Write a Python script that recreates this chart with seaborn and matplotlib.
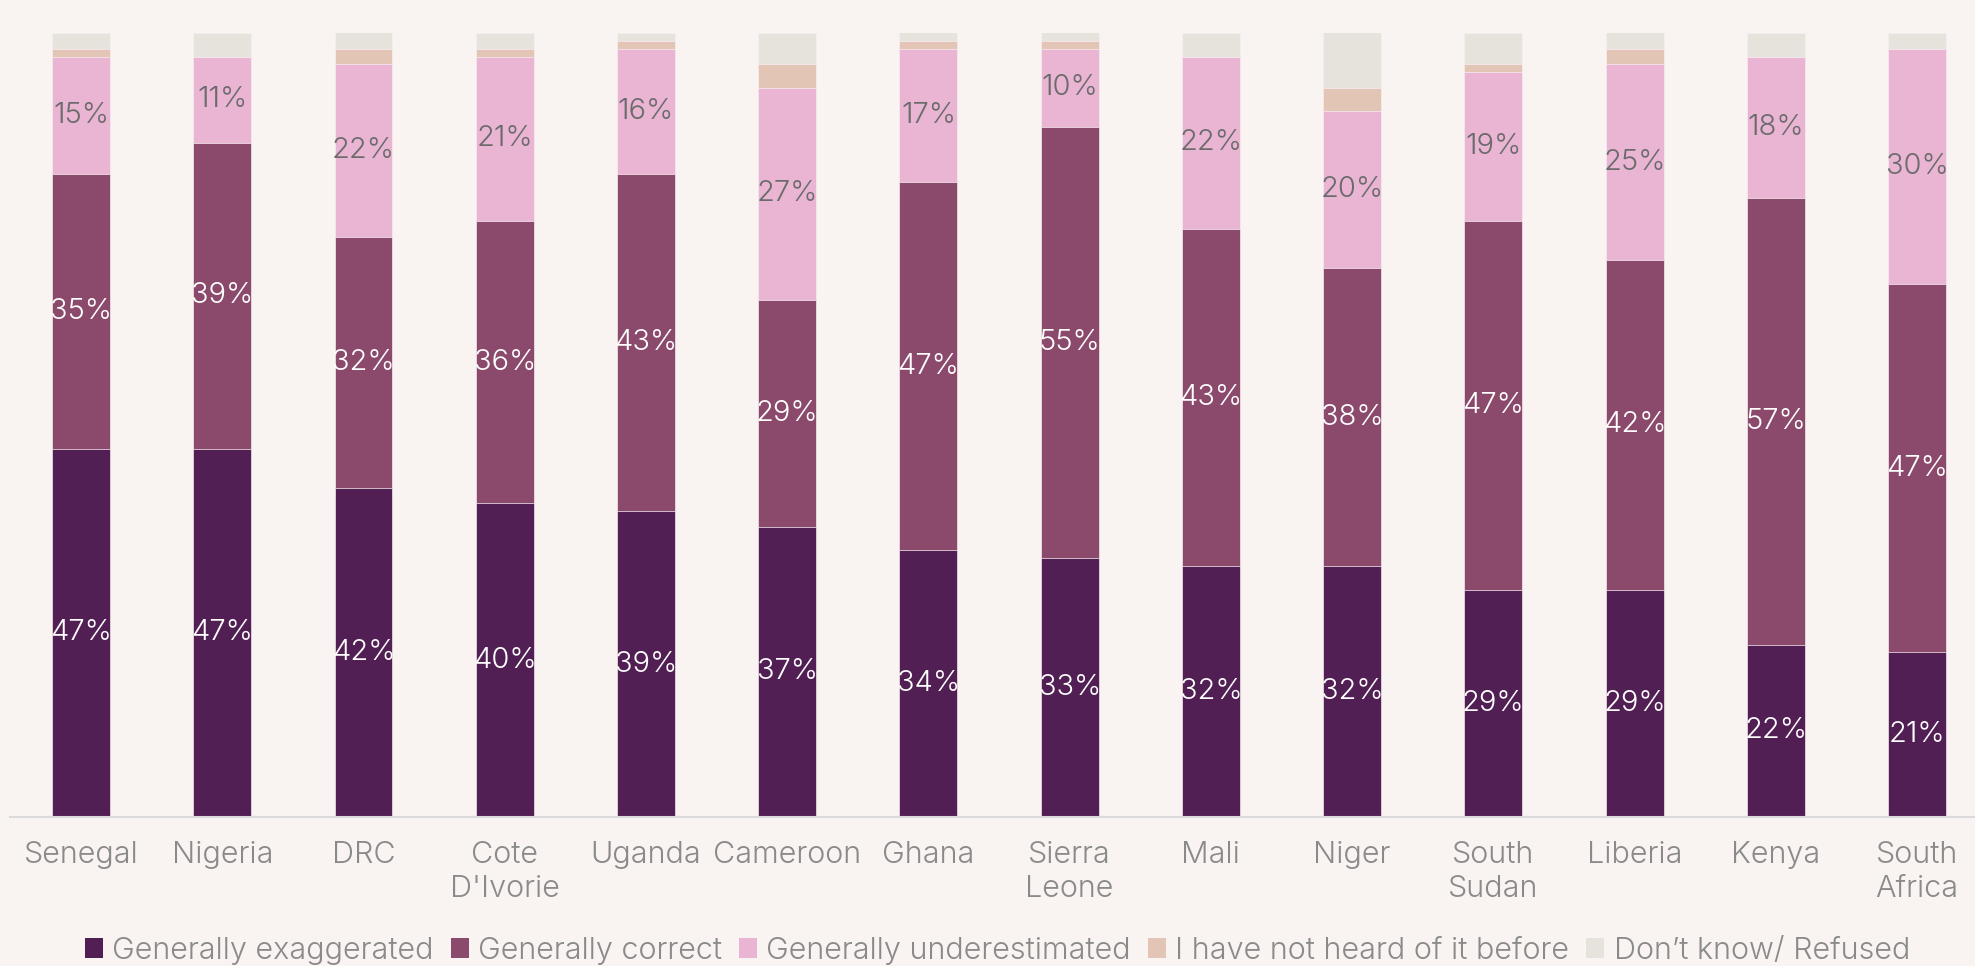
import matplotlib
matplotlib.use("Agg")
import matplotlib.pyplot as plt
import numpy as np
import pandas as pd
import seaborn as sns
from matplotlib.patches import Patch

# 国家（横轴）
countries = ["Senegal", "Nigeria", "DRC", "Cote\nD'Ivorie", "Uganda", "Cameroon", "Ghana",
             "Sierra\nLeone", "Mali", "Niger", "South\nSudan", "Liberia", "Kenya", "South\nAfrica"]

# 各类回答比例（%）
exaggerated = [47, 47, 42, 40, 39, 37, 34, 33, 32, 32, 29, 29, 22, 21]
correct = [35, 39, 32, 36, 43, 29, 47, 55, 43, 38, 47, 42, 57, 47]
underestimated = [15, 11, 22, 21, 16, 27, 17, 10, 22, 20, 19, 25, 18, 30]
not_heard = [1, 0, 2, 1, 1, 3, 1, 1, 0, 3, 1, 2, 0, 0]
dont_know = [2, 3, 3, 2, 1, 4, 2, 2, 3, 8, 4, 3, 3, 2]

series_names = ["Generally exaggerated", "Generally correct", "Generally underestimated",
                "I have not heard of it before", "Don\u2019t know/ Refused"]
series_colors = ["#521f55", "#8b4a6b", "#e9b5d3", "#e3c5b5", "#e6e3dd"]

BG = "#f9f4f1"
FONT = ["Inter", "DejaVu Sans"]

sns.set_theme(style="white")
plt.rcParams["font.family"] = FONT

df = pd.DataFrame({
    "country": countries,
    series_names[0]: exaggerated,
    series_names[1]: correct,
    series_names[2]: underestimated,
    series_names[3]: not_heard,
    series_names[4]: dont_know,
})

fig = plt.figure(figsize=(19.75, 9.66), dpi=100, facecolor=BG)
ax = fig.add_axes([10 / 1975, (966 - 817) / 966, 1 - 10 / 1975, 784 / 966])
ax.set_facecolor(BG)

# 堆叠：从最上层开始画累计高度
cum = df[series_names].cumsum(axis=1)
for name, color in reversed(list(zip(series_names, series_colors))):
    sns.barplot(x=df["country"], y=cum[name], color=color, width=0.41, ax=ax,
                edgecolor="#f7eef2", linewidth=0.5, saturation=1)

# 数值标签
label_colors = ["white", "white", "#6b6b6b"]
x = np.arange(len(countries))
for i, name in enumerate(series_names[:3]):
    lower = cum[name] - df[name]
    for xi, lo, v in zip(x, lower, df[name]):
        ax.text(xi, lo + v / 2, f"{v}%", ha="center", va="center", zorder=5,
                color=label_colors[i], fontsize=21, fontweight=300)

ax.set_xlim(-0.503, 13.41)
ax.set_ylim(0, 100)
ax.set_yticks([])
ax.set_xlabel("")
ax.set_ylabel("")
for side in ["top", "right", "left"]:
    ax.spines[side].set_visible(False)
ax.spines["bottom"].set_color("#dcdadd")
ax.spines["bottom"].set_linewidth(1.5)
ax.tick_params(axis="x", length=0, pad=17, labelsize=22, labelcolor="#8a8a8a")
for lab in ax.get_xticklabels():
    lab.set_fontweight(300)
    lab.set_linespacing(1.3)

handles = [Patch(facecolor=c, edgecolor="none") for c in series_colors]
leg = fig.legend(handles, series_names, loc="lower center", bbox_to_anchor=(0.505, -0.027),
                 ncol=5, frameon=False, fontsize=22, labelcolor="#8a8a8a",
                 handlelength=0.6, handleheight=0.6, handletextpad=0.3, columnspacing=0.55)
for t in leg.get_texts():
    t.set_fontweight(300)

fig.savefig("out.png", dpi=100, facecolor=BG)
